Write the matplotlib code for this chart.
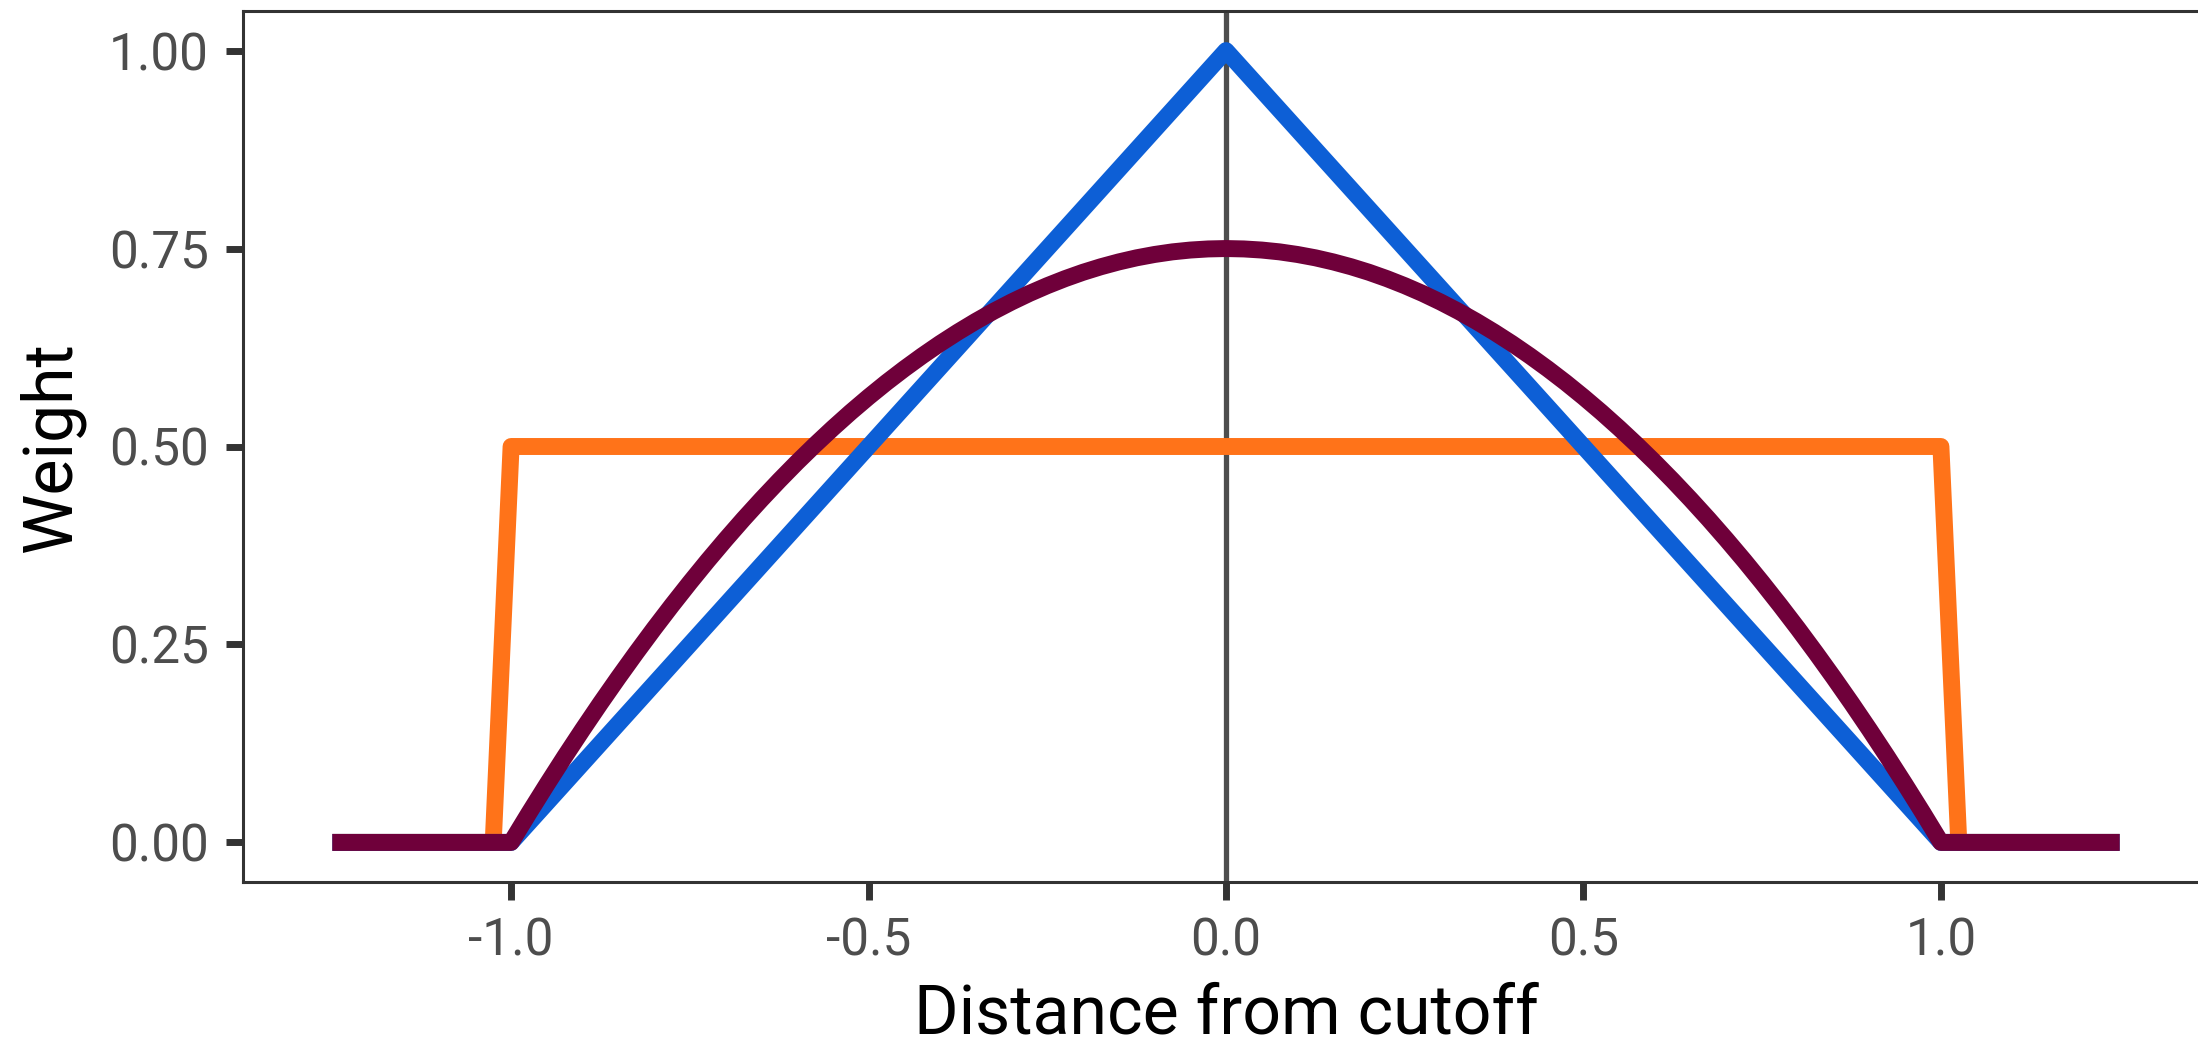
import matplotlib
matplotlib.use("Agg")
import matplotlib.pyplot as plt

plt.rcParams['font.family'] = ['Roboto', 'DejaVu Sans']

# Uniform kernel
uni_x = [-1.25, -1.025, -1.00, 1.00, 1.025, 1.25]
uni_y = [0.0, 0.0, 0.5, 0.5, 0.0, 0.0]

# Triangular kernel
tri_x = [-1.25, -1.00, 0.00, 1.00, 1.25]
tri_y = [0.0, 0.0, 1.0, 0.0, 0.0]

# Epanechnikov kernel
epa_x = [-1.25,
         -1.000, -0.975, -0.950, -0.925, -0.900, -0.875, -0.850, -0.825, -0.800, -0.775,
         -0.750, -0.725, -0.700, -0.675, -0.650, -0.625, -0.600, -0.575, -0.550, -0.525,
         -0.500, -0.475, -0.450, -0.425, -0.400, -0.375, -0.350, -0.325, -0.300, -0.275,
         -0.250, -0.225, -0.200, -0.175, -0.150, -0.125, -0.100, -0.075, -0.050, -0.025,
         0.000,
         0.025, 0.050, 0.075, 0.100, 0.125, 0.150, 0.175, 0.200, 0.225, 0.250,
         0.275, 0.300, 0.325, 0.350, 0.375, 0.400, 0.425, 0.450, 0.475, 0.500,
         0.525, 0.550, 0.575, 0.600, 0.625, 0.650, 0.675, 0.700, 0.725, 0.750,
         0.775, 0.800, 0.825, 0.850, 0.875, 0.900, 0.925, 0.950, 0.975, 1.000,
         1.25]
epa_y = [0.0,
         0.0000, 0.0370, 0.0731, 0.1083, 0.1425, 0.1758, 0.2081, 0.2395, 0.2700, 0.2995,
         0.3281, 0.3558, 0.3825, 0.4083, 0.4331, 0.4570, 0.4800, 0.5020, 0.5231, 0.5433,
         0.5625, 0.5808, 0.5981, 0.6145, 0.6300, 0.6445, 0.6581, 0.6708, 0.6825, 0.6933,
         0.7031, 0.7120, 0.7200, 0.7270, 0.7331, 0.7383, 0.7425, 0.7458, 0.7481, 0.7495,
         0.7500,
         0.7495, 0.7481, 0.7458, 0.7425, 0.7383, 0.7331, 0.7270, 0.7200, 0.7120, 0.7031,
         0.6933, 0.6825, 0.6708, 0.6581, 0.6445, 0.6300, 0.6145, 0.5981, 0.5808, 0.5625,
         0.5433, 0.5231, 0.5020, 0.4800, 0.4570, 0.4331, 0.4083, 0.3825, 0.3558, 0.3281,
         0.2995, 0.2700, 0.2395, 0.2081, 0.1758, 0.1425, 0.1083, 0.0731, 0.0370, 0.0000,
         0.0]

x_ticks = [-1.0, -0.5, 0.0, 0.5, 1.0]
x_labels = ["-1.0", "-0.5", "0.0", "0.5", "1.0"]
y_ticks = [0.00, 0.25, 0.50, 0.75, 1.00]
y_labels = ["0.00", "0.25", "0.50", "0.75", "1.00"]

W, H, DPI = 2198, 1046, 200
fig = plt.figure(figsize=(W / DPI, H / DPI), dpi=DPI)
left, right_px, top_px, bottom_px = 243, 2209, 11, 882
ax = fig.add_axes([left / W, 1 - bottom_px / H, (right_px - left) / W, (bottom_px - top_px) / H])

lw = 6.1
ax.axvline(0, color='#4D4D4D', lw=1.9, zorder=1)
ax.plot(uni_x, uni_y, color='#FF7319', lw=lw, solid_capstyle='butt', solid_joinstyle='round', zorder=2)
ax.plot(tri_x, tri_y, color='#0D5FD6', lw=lw, solid_capstyle='butt', solid_joinstyle='round', zorder=3)
ax.plot(epa_x, epa_y, color='#6F003A', lw=lw, solid_capstyle='butt', solid_joinstyle='round', zorder=4)

ax.set_xlim(-1.375, 1.375)
ax.set_ylim(-0.05, 1.05)
ax.set_xticks(x_ticks)
ax.set_xticklabels(x_labels)
ax.set_yticks(y_ticks)
ax.set_yticklabels(y_labels)

for s in ax.spines.values():
    s.set_color('#333333')
    s.set_linewidth(1.1)

ax.tick_params(axis='both', length=6.3, width=2.5, color='#333333',
               labelcolor='#4D4D4D', labelsize=18.5, pad=6)

ax.set_xlabel("Distance from cutoff", fontsize=24.5, color='black')
ax.xaxis.label.set(ha='center', va='baseline')
ax.xaxis.set_label_coords(0.5, (882 - 1033) / 871)

ax.set_ylabel("Weight", fontsize=24.5, color='black')
ax.yaxis.label.set(ha='center', va='baseline', rotation_mode='anchor')
ax.yaxis.set_label_coords((70 - 243) / (2209 - 243), 0.5)

fig.savefig("out.png", dpi=DPI)
